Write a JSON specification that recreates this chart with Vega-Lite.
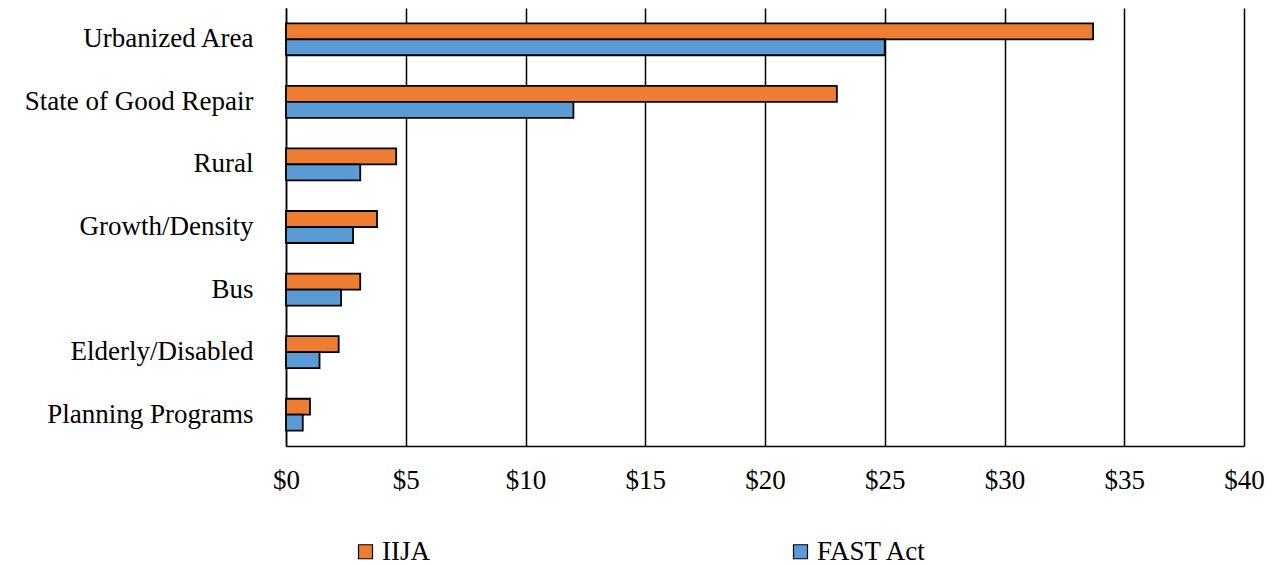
{
  "$schema": "https://vega.github.io/schema/vega-lite/v6.json",
  "width": 958,
  "height": 438,
  "autosize": {"type": "none"},
  "padding": {"left": 286, "top": 8, "right": 34, "bottom": 119},
  "background": "white",
  "config": {
    "view": {"stroke": null},
    "font": "Liberation Serif",
    "axis": {"labelFont": "Liberation Serif", "labelColor": "black", "labelFontSize": 27, "titleFont": "Liberation Serif"},
    "legend": {"labelFont": "Liberation Serif", "labelColor": "black", "labelFontSize": 27}
  },
  "data": {
    "values": [
      {"program": "Urbanized Area", "law": "IIJA", "billions": 33.7},
      {"program": "Urbanized Area", "law": "FAST Act", "billions": 25.0},
      {"program": "State of Good Repair", "law": "IIJA", "billions": 23.0},
      {"program": "State of Good Repair", "law": "FAST Act", "billions": 12.0},
      {"program": "Rural", "law": "IIJA", "billions": 4.6},
      {"program": "Rural", "law": "FAST Act", "billions": 3.1},
      {"program": "Growth/Density", "law": "IIJA", "billions": 3.8},
      {"program": "Growth/Density", "law": "FAST Act", "billions": 2.8},
      {"program": "Bus", "law": "IIJA", "billions": 3.1},
      {"program": "Bus", "law": "FAST Act", "billions": 2.3},
      {"program": "Elderly/Disabled", "law": "IIJA", "billions": 2.2},
      {"program": "Elderly/Disabled", "law": "FAST Act", "billions": 1.4},
      {"program": "Planning Programs", "law": "IIJA", "billions": 1.0},
      {"program": "Planning Programs", "law": "FAST Act", "billions": 0.7}
    ]
  },
  "mark": {"type": "bar", "stroke": "black", "strokeWidth": 1.8},
  "encoding": {
    "y": {
      "field": "program",
      "type": "nominal",
      "sort": ["Urbanized Area", "State of Good Repair", "Rural", "Growth/Density", "Bus", "Elderly/Disabled", "Planning Programs"],
      "scale": {"paddingInner": 0.489, "paddingOuter": 0.2445},
      "axis": {
        "title": null,
        "ticks": false,
        "tickSize": 0,
        "labelPadding": 33,
        "labelLimit": 400,
        "domain": true,
        "domainColor": "black",
        "domainWidth": 1.5,
        "grid": false
      }
    },
    "yOffset": {
      "field": "law",
      "type": "nominal",
      "sort": ["IIJA", "FAST Act"],
      "scale": {"paddingInner": 0, "paddingOuter": 0}
    },
    "x": {
      "field": "billions",
      "type": "quantitative",
      "scale": {"domain": [0, 40], "nice": false},
      "axis": {
        "title": null,
        "values": [0, 5, 10, 15, 20, 25, 30, 35, 40],
        "labelExpr": "'$' + datum.value",
        "labelFlush": false,
        "ticks": false,
        "tickSize": 0,
        "labelPadding": 21,
        "domain": true,
        "domainColor": "black",
        "domainWidth": 1.5,
        "grid": true,
        "gridColor": "black",
        "gridWidth": 1.5,
        "gridOpacity": 1
      }
    },
    "color": {
      "field": "law",
      "type": "nominal",
      "scale": {"domain": ["IIJA", "FAST Act"], "range": ["#ED7D31", "#5B9BD5"]},
      "legend": {
        "title": null,
        "orient": "none",
        "direction": "horizontal",
        "legendX": 66,
        "legendY": 530,
        "padding": 0,
        "symbolType": "square",
        "symbolSize": 196,
        "symbolStrokeColor": "black",
        "symbolStrokeWidth": 1.2,
        "labelOffset": 3,
        "columnPadding": 357
      }
    }
  }
}
